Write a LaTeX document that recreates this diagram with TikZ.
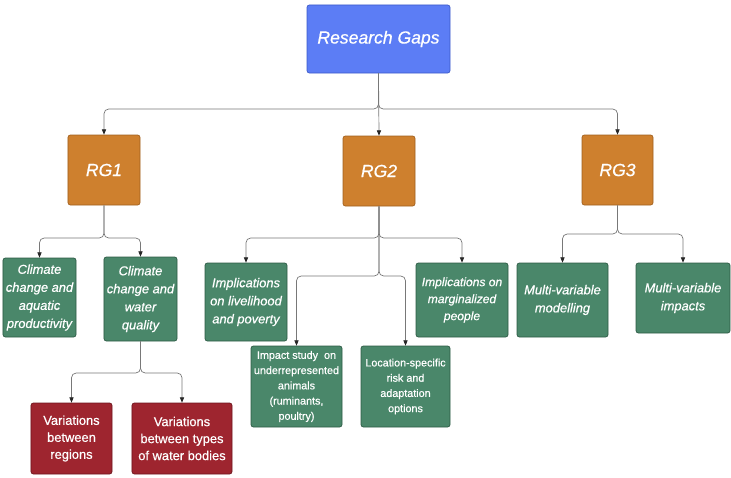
\documentclass[tikz,border=0pt]{standalone}
\usepackage{fontspec}
\setmainfont{Liberation Sans}
\newfontfamily\boxfont{Liberation Sans}[FakeBold=0.6]
\usepackage{tikz}
\usetikzlibrary{arrows.meta,positioning}
\definecolor{gapblue}{RGB}{92,125,245}
\definecolor{gapblueline}{RGB}{60,90,200}
\definecolor{rgorange}{RGB}{206,128,46}
\definecolor{rgorangeline}{RGB}{160,95,30}
\definecolor{subgreen}{RGB}{74,135,106}
\definecolor{subgreenline}{RGB}{45,90,68}
\definecolor{varred}{RGB}{158,37,47}
\definecolor{varredline}{RGB}{110,22,30}
\definecolor{connline}{RGB}{120,120,120}

\tikzset{
  gapbox/.style={draw=#1line, fill=#1, rounded corners=2pt, text=white,
    align=center, inner sep=0pt, line width=0.6pt},
  bigtext/.style={font=\boxfont\fontsize{15}{18}\selectfont\itshape},
  midtext/.style={font=\boxfont\fontsize{11}{15.4}\selectfont\itshape},
  smalltext/.style={font=\boxfont\fontsize{9.2}{13}\selectfont},
  conn/.style={draw=connline, line width=0.6pt, rounded corners=4pt,
    -{Triangle[length=4.5pt,width=3.6pt,color=black!85]}}
}

\begin{document}
\begin{tikzpicture}[x=0.03cm, y=-0.03cm]
\useasboundingbox (0,0) rectangle (731,477);

% top level
\node[gapbox=gapblue, bigtext, minimum width=4.29cm, minimum height=2.04cm]
  (root) at (378.5,39) {Research Gaps};
\node[gapbox=rgorange, bigtext, minimum width=2.16cm, minimum height=2.1cm]
  (rg1) at (104,170) {RG1};
\node[gapbox=rgorange, bigtext, minimum width=2.16cm, minimum height=2.1cm]
  (rg2) at (379,171) {RG2};
\node[gapbox=rgorange, bigtext, minimum width=2.13cm, minimum height=2.1cm]
  (rg3) at (617.5,170) {RG3};

% RG1 branch
\node[gapbox=subgreen, midtext, minimum width=2.19cm, minimum height=2.37cm]
  (aquatic) at (39.5,297.5) {Climate\\change and\\aquatic\\productivity};
\node[gapbox=subgreen, midtext, minimum width=2.19cm, minimum height=2.52cm]
  (water) at (140.5,299) {Climate\\change and\\water\\quality};
\node[gapbox=varred, font=\boxfont\fontsize{11}{14.5}\selectfont,
      minimum width=2.43cm, minimum height=2.13cm]
  (regions) at (71.5,438.5) {Variations\\between\\regions};
\node[gapbox=varred, font=\boxfont\fontsize{11}{14.5}\selectfont,
      minimum width=3cm, minimum height=2.13cm]
  (bodies) at (182,438.5) {Variations\\between types\\of water bodies};

% RG2 branch
\node[gapbox=subgreen, midtext, minimum width=2.46cm, minimum height=2.34cm]
  (livelihood) at (246,302) {Implications\\on livelihood\\and poverty};
\node[gapbox=subgreen, smalltext, minimum width=2.73cm, minimum height=2.43cm]
  (animals) at (296.5,386.5) {Impact study~ on\\underrepresented\\animals\\(ruminants,\\poultry)};
\node[gapbox=subgreen, smalltext, minimum width=2.67cm, minimum height=2.43cm]
  (location) at (405.5,386.5) {Location-specific\\risk and\\adaptation\\options};
\node[gapbox=subgreen, font=\boxfont\fontsize{10.3}{14.5}\selectfont\itshape,
      minimum width=2.76cm, minimum height=2.22cm]
  (marginal) at (462,300) {Implications on\\marginalized\\people};

% RG3 branch
\node[gapbox=subgreen, midtext, minimum width=2.73cm, minimum height=2.22cm]
  (modelling) at (562.5,300) {Multi-variable\\modelling};
\node[gapbox=subgreen, midtext, minimum width=2.82cm, minimum height=2.1cm]
  (impacts) at (683,298) {Multi-variable\\impacts};

% bus points
\coordinate (j0) at (378.5,109);
\coordinate (j1) at (104,238);
\coordinate (j1b) at (140.5,373);
\coordinate (j2) at (379,238);
\coordinate (j2b) at (379,276);
\coordinate (j3) at (617.5,234);

\draw[conn] (root.south) -- (j0) -| (rg1.north);
\draw[conn] (root.south) -- (rg2.north);
\draw[conn] (root.south) -- (j0) -| (rg3.north);

\draw[conn] (rg1.south) -- (j1) -| (aquatic.north);
\draw[conn] (rg1.south) -- (j1) -| (water.north);
\draw[conn] (water.south) -- (j1b) -| (regions.north);
\draw[conn] (water.south) -- (j1b) -| (bodies.north);

\draw[conn] (rg2.south) -- (j2) -| (livelihood.north);
\draw[conn] (rg2.south) -- (j2) -| (marginal.north);
\draw[conn] (rg2.south) -- (j2b) -| (animals.north);
\draw[conn] (rg2.south) -- (j2b) -| (location.north);

\draw[conn] (rg3.south) -- (j3) -| (modelling.north);
\draw[conn] (rg3.south) -- (j3) -| (impacts.north);
\end{tikzpicture}
\end{document}
